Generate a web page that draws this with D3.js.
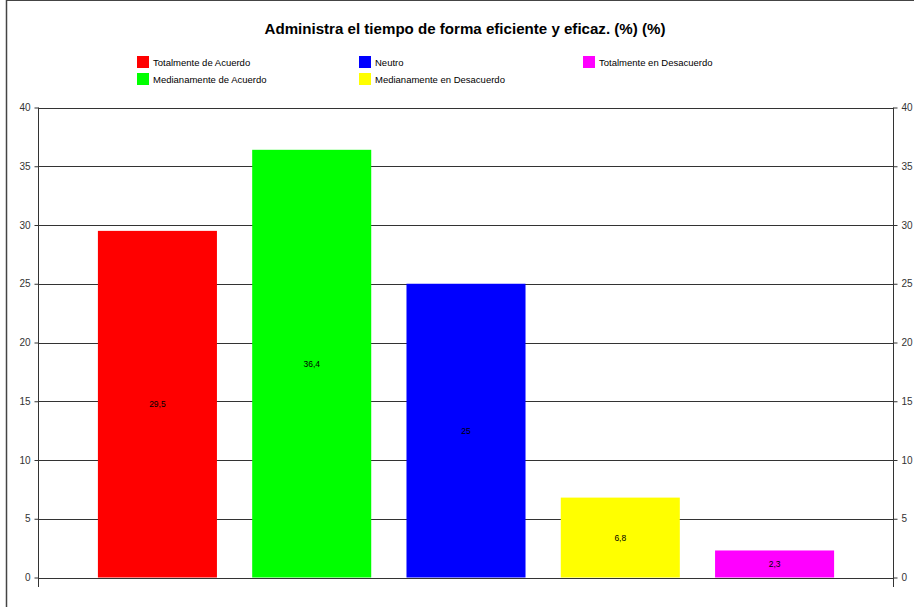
<!DOCTYPE html>
<html>
<head>
<meta charset="utf-8">
<script src="https://cdn.jsdelivr.net/npm/d3@7"></script>
<style>
  html, body { margin: 0; padding: 0; background: #fff; }
  svg { display: block; font-family: "Liberation Sans", Arial, sans-serif; }
</style>
</head>
<body>
<svg id="chart" width="914" height="607"></svg>
<script>
const title = "Administra el tiempo de forma eficiente y eficaz. (%) (%)";
const categories = ["Totalmente de Acuerdo", "Medianamente de Acuerdo", "Neutro", "Medianamente en Desacuerdo", "Totalmente en Desacuerdo"];
const values = [29.5, 36.4, 25, 6.8, 2.3];
const valueLabels = ["29,5", "36,4", "25", "6,8", "2,3"];
const colors = ["#ff0000", "#00ff00", "#0000ff", "#ffff00", "#ff00ff"];
const yTicks = [0, 5, 10, 15, 20, 25, 30, 35, 40];

(function () {
const svg = d3.select("#chart");

// frame
svg.append("line").attr("x1", 6.5).attr("x2", 6.5).attr("y1", 0).attr("y2", 607)
  .attr("stroke", "#444").attr("stroke-width", 1.5);
svg.append("line").attr("x1", 6).attr("x2", 914).attr("y1", 0.5).attr("y2", 0.5)
  .attr("stroke", "#444").attr("stroke-width", 1);

// title
svg.append("text").attr("x", 465).attr("y", 33.5).attr("text-anchor", "middle")
  .attr("font-size", 15.1).attr("font-weight", "bold").attr("fill", "#000").text(title);

// legend
const legendPos = [
  {x: 137, y: 56}, {x: 137, y: 73}, {x: 359, y: 56}, {x: 359, y: 73}, {x: 583, y: 56}
];
const legend = svg.append("g");
categories.forEach((c, i) => {
  const p = legendPos[i];
  legend.append("rect").attr("x", p.x).attr("y", p.y).attr("width", 12).attr("height", 12)
    .attr("fill", colors[i]);
  legend.append("text").attr("x", p.x + 16).attr("y", p.y + 10)
    .attr("font-size", 9.5).attr("fill", "#000").text(c);
});

// scales
const pLeft = 38.5, pRight = 893.5, pTop = 107.5, pBottom = 577.5;
const y = d3.scaleLinear().domain([0, 40]).range([pBottom, pTop]);
const x = d3.scaleBand().domain(categories).range([pLeft, pRight])
  .paddingInner(0.2285).paddingOuter(0.385);

// gridlines
svg.append("g").selectAll("line").data(yTicks.filter(t => t > 0)).join("line")
  .attr("x1", pLeft).attr("x2", pRight)
  .attr("y1", d => Math.round(y(d)) + 0.5).attr("y2", d => Math.round(y(d)) + 0.5)
  .attr("stroke", "#333").attr("stroke-width", 1);

// bars
svg.append("g").selectAll("rect").data(values).join("rect")
  .attr("x", (d, i) => x(categories[i]))
  .attr("width", x.bandwidth())
  .attr("y", d => y(d))
  .attr("height", d => y(0) - y(d))
  .attr("fill", (d, i) => colors[i]);

// value labels
svg.append("g").selectAll("text").data(values).join("text")
  .attr("x", (d, i) => x(categories[i]) + x.bandwidth() / 2)
  .attr("y", d => (y(d) + y(0)) / 2 + 3)
  .attr("text-anchor", "middle").attr("font-size", 8.5).attr("fill", "#000")
  .text((d, i) => valueLabels[i]);

// baseline
svg.append("line").attr("x1", pLeft).attr("x2", pRight)
  .attr("y1", Math.round(y(0)) + 0.5).attr("y2", Math.round(y(0)) + 0.5)
  .attr("stroke", "#333").attr("stroke-width", 1);

// axes
const axisL = d3.axisLeft(y).tickValues(yTicks).tickSize(4).tickPadding(4).tickFormat(d3.format("d"));
const axisR = d3.axisRight(y).tickValues(yTicks).tickSize(4).tickPadding(4).tickFormat(d3.format("d"));

const gL = svg.append("g").attr("transform", `translate(${pLeft},0)`).call(axisL);
const gR = svg.append("g").attr("transform", `translate(${pRight},0)`).call(axisR);
[gL, gR].forEach(g => {
  g.select(".domain").remove();
  g.selectAll(".tick line").attr("stroke", "#333");
  g.selectAll(".tick text").attr("fill", "#333").attr("font-size", 10)
    .attr("font-family", "Liberation Sans, Arial, sans-serif");
  g.append("line").attr("x1", 0).attr("x2", 0).attr("y1", pTop).attr("y2", 587)
    .attr("stroke", "#333").attr("stroke-width", 1);
});
})();
</script>
</body>
</html>
